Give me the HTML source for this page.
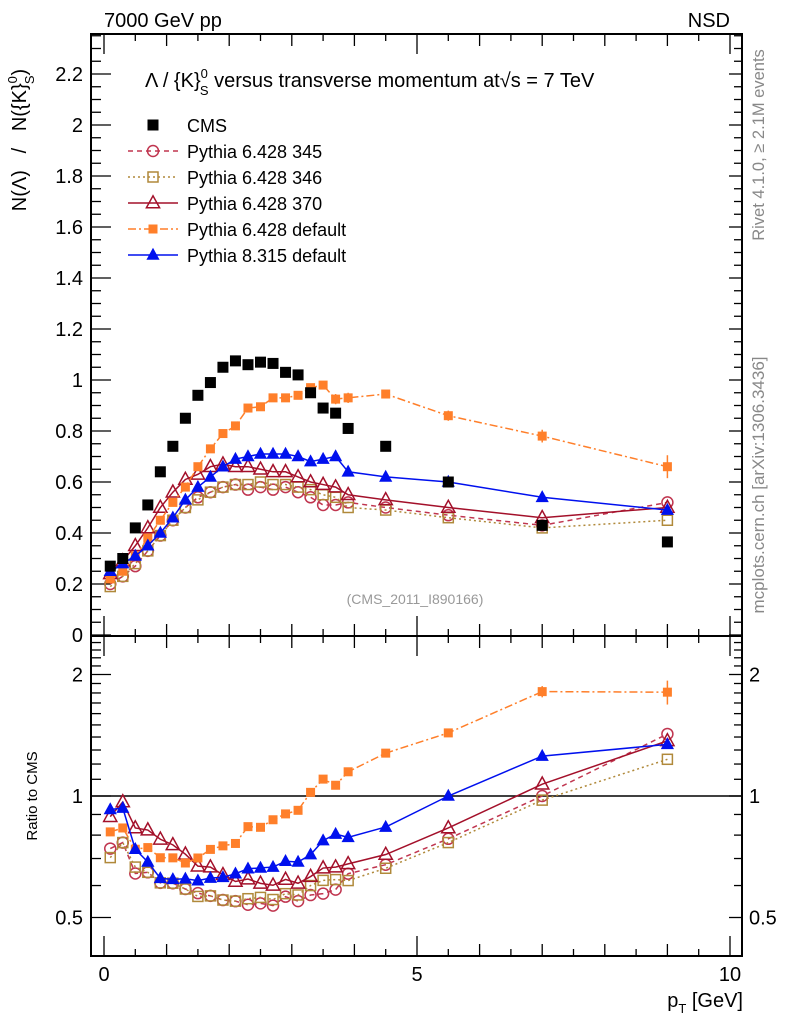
<!DOCTYPE html>
<html><head><meta charset="utf-8"><style>
html,body{margin:0;padding:0;background:#fff;}
svg{display:block;font-family:"Liberation Sans",sans-serif;}
</style></head><body>
<svg id="chart" width="786" height="1024" viewBox="0 0 786 1024" xmlns="http://www.w3.org/2000/svg">
<text x="104" y="27" font-size="20">7000 GeV pp</text>
<text x="730" y="27" font-size="20" text-anchor="end">NSD</text>
<text x="145" y="87" font-size="20">Λ / {K}<tspan font-size="13" dy="-9">0</tspan><tspan font-size="13" dx="-8" dy="17">S</tspan><tspan dy="-8"> versus transverse momentum at</tspan><tspan>√s = 7 TeV</tspan></text>
<text transform="translate(764,145) rotate(-90)" font-size="16.5" fill="#888" text-anchor="middle">Rivet 4.1.0, ≥ 2.1M events</text>
<text transform="translate(764,485) rotate(-90)" font-size="17" fill="#888" text-anchor="middle">mcplots.cern.ch [arXiv:1306.3436]</text>
<text x="415" y="604" font-size="14" fill="#999" text-anchor="middle">(CMS_2011_I890166)</text>
<text transform="translate(26,140) rotate(-90)" font-size="20" text-anchor="middle" xml:space="preserve">N(Λ)&#160;&#160;&#160;/&#160;&#160;&#160;N({K}<tspan font-size="13" dy="-9">0</tspan><tspan font-size="13" dx="-8" dy="17">S</tspan><tspan dy="-8">)</tspan></text>
<text transform="translate(37,796) rotate(-90)" font-size="15" text-anchor="middle">Ratio to CMS</text>
<text x="743" y="1007" font-size="20" text-anchor="end">p<tspan font-size="13" dy="6">T</tspan><tspan dy="-6"> [GeV]</tspan></text>
<g id="plot"></g>
</svg>
<script>
const xVals = [0.1,0.3,0.5,0.7,0.9,1.1,1.3,1.5,1.7,1.9,2.1,2.3,2.5,2.7,2.9,3.1,3.3,3.5,3.7,3.9,4.5,5.5,7.0,9.0];
const cmsVals = [0.27,0.30,0.42,0.51,0.64,0.74,0.85,0.94,0.99,1.05,1.075,1.06,1.07,1.065,1.03,1.02,0.95,0.89,0.87,0.81,0.74,0.60,0.43,0.365];
const p345Vals = [0.20,0.23,0.27,0.33,0.39,0.45,0.50,0.54,0.56,0.58,0.59,0.57,0.58,0.57,0.58,0.56,0.54,0.51,0.51,0.52,0.50,0.47,0.43,0.52];
const p346Vals = [0.19,0.23,0.28,0.33,0.39,0.45,0.50,0.53,0.56,0.58,0.59,0.59,0.60,0.59,0.59,0.58,0.57,0.55,0.54,0.50,0.49,0.46,0.42,0.45];
const p370Vals = [0.24,0.29,0.35,0.42,0.50,0.56,0.61,0.63,0.66,0.67,0.66,0.66,0.65,0.64,0.64,0.62,0.60,0.59,0.58,0.55,0.53,0.50,0.46,0.50];
const p6defVals = [0.22,0.25,0.31,0.38,0.45,0.52,0.58,0.66,0.73,0.79,0.82,0.89,0.895,0.93,0.93,0.94,0.97,0.98,0.925,0.93,0.945,0.86,0.78,0.66];
const p8defVals = [0.25,0.28,0.31,0.35,0.40,0.46,0.53,0.58,0.62,0.66,0.69,0.70,0.71,0.71,0.71,0.70,0.68,0.69,0.70,0.64,0.62,0.60,0.54,0.49];
const p6defErr = [0,0,0,0,0,0,0,0,0,0,0,0,0,0,0,0,0.01,0.015,0.02,0.02,0.015,0.02,0.025,0.045];
const yTicks = [0,0.2,0.4,0.6,0.8,1,1.2,1.4,1.6,1.8,2,2.2];
const yTickLabels = ["0","0.2","0.4","0.6","0.8","1","1.2","1.4","1.6","1.8","2","2.2"];
const rTicks = [0.5,1,2];
const rTickLabels = ["0.5","1","2"];
const xTicks = [0,5,10];
const xTickLabels = ["0","5","10"];

const NS="http://www.w3.org/2000/svg";
const L=91,R=742,T=34,MB=636,RB=956;
const X=v=>104+v*62.6;
const Y=v=>635-v*255;
const RY=v=>796-Math.log2(v)*121.5;
const g=document.getElementById('plot');
function el(tag,attrs,parent){const e=document.createElementNS(NS,tag);for(const k in attrs)e.setAttribute(k,attrs[k]);(parent||g).appendChild(e);return e;}

let f1=el('rect',{x:L,y:T,width:R-L,height:MB-T,fill:'none',stroke:'#000','stroke-width':2});


let f2=el('rect',{x:L,y:MB,width:R-L,height:RB-MB,fill:'none',stroke:'#000','stroke-width':2});



for(let v=0;v<=2.35;v+=0.05){const y=Y(v);if(y<T)break;const major=Math.abs(v/0.2-Math.round(v/0.2))<1e-6;
 el('line',{x1:L,x2:L+(major?20:10),y1:y,y2:y,stroke:'#000','stroke-width':1.3});
 el('line',{x1:R,x2:R-(major?13:8),y1:y,y2:y,stroke:'#000','stroke-width':1.3});}
yTicks.forEach((v,i)=>{const t=el('text',{x:83,y:Y(v)+7,'font-size':20,'text-anchor':'end'});t.textContent=yTickLabels[i];
 
 });
for(let v=0.4;v<=2.5;v+=0.1){const y=RY(v);if(y<MB||y>RB)continue;const major=rTicks.some(t=>Math.abs(t-v)<1e-6);
 el('line',{x1:L,x2:L+(major?20:10),y1:y,y2:y,stroke:'#000','stroke-width':1.3});
 el('line',{x1:R,x2:R-(major?13:8),y1:y,y2:y,stroke:'#000','stroke-width':1.3});}
rTicks.forEach((v,i)=>{const t=el('text',{x:83,y:RY(v)+7,'font-size':20,'text-anchor':'end'});t.textContent=rTickLabels[i];
 
 
 const t2=el('text',{x:749,y:RY(v)+7,'font-size':20});t2.textContent=rTickLabels[i];
 
 });
for(let v=0;v<=10.01;v+=0.5){const x=X(v);const major=Math.abs(v-Math.round(v))<1e-6;const big=Math.abs(v%5)<1e-6;const len=big?20:(major?12:7);
 [[T,1],[MB,-1],[MB,1],[RB,-1]].forEach(([y0,d])=>el('line',{x1:x,x2:x,y1:y0,y2:y0+d*len,stroke:'#000','stroke-width':1.3}));}
xTicks.forEach((v,i)=>{const t=el('text',{x:X(v),y:981,'font-size':20,'text-anchor':'middle'});t.textContent=xTickLabels[i];
 
 });
let u=el('line',{x1:L,x2:R,y1:RY(1),y2:RY(1),stroke:'#000','stroke-width':1.5});



function marker(parent,type,x,y,color,s){
 if(type==='sqf') return el('rect',{x:x-s,y:y-s,width:2*s,height:2*s,fill:color},parent);
 if(type==='sqo') return el('rect',{x:x-s,y:y-s,width:2*s,height:2*s,fill:'#fff','fill-opacity':0,stroke:color,'stroke-width':1.5},parent);
 if(type==='circ') return el('circle',{cx:x,cy:y,r:s,fill:'none',stroke:color,'stroke-width':1.5},parent);
 if(type==='trio') return el('polygon',{points:`${x},${y-s*1.2} ${x-s*1.1},${y+s*0.8} ${x+s*1.1},${y+s*0.8}`,fill:'none',stroke:color,'stroke-width':1.5},parent);
 if(type==='trif') return el('polygon',{points:`${x},${y-s*1.2} ${x-s*1.1},${y+s*0.8} ${x+s*1.1},${y+s*0.8}`,fill:color},parent);
}
const series=[
 {name:'pythia-6428-345',vals:p345Vals,color:'#c0354f',dash:'5,4',m:'circ',s:5.5,label:'Pythia 6.428 345'},
 {name:'pythia-6428-346',vals:p346Vals,color:'#b0893a',dash:'2,3',m:'sqo',s:5,label:'Pythia 6.428 346'},
 {name:'pythia-6428-370',vals:p370Vals,color:'#a3102a',dash:'',m:'trio',s:6,label:'Pythia 6.428 370'},
 {name:'pythia-6428-default',vals:p6defVals,color:'#ff7f2a',dash:'8,3,2,3',m:'sqf',s:4.5,label:'Pythia 6.428 default',err:p6defErr},
 {name:'pythia-8315-default',vals:p8defVals,color:'#0010ee',dash:'',m:'trif',s:6,label:'Pythia 8.315 default'}
];
series.forEach(sr=>{
 const gm=el('g',{});
 
 
 const gr=el('g',{});
 
 
 const pts=xVals.map((x,i)=>[X(x),Y(sr.vals[i])]);
 const rpts=xVals.map((x,i)=>[X(x),RY(sr.vals[i]/cmsVals[i])]);
 const a={fill:'none',stroke:sr.color,'stroke-width':1.5};if(sr.dash)a['stroke-dasharray']=sr.dash;
 el('polyline',Object.assign({points:pts.map(p=>p.join(',')).join(' ')},a),gm);
 el('polyline',Object.assign({points:rpts.map(p=>p.join(',')).join(' ')},a),gr);
 xVals.forEach((x,i)=>{
  const e=sr.err?sr.err[i]:0;
  if(e>0){el('line',{x1:X(x),x2:X(x),y1:Y(sr.vals[i]-e),y2:Y(sr.vals[i]+e),stroke:sr.color,'stroke-width':1.5},gm);
   const r=sr.vals[i]/cmsVals[i],re=e/cmsVals[i];
   el('line',{x1:X(x),x2:X(x),y1:RY(r-re),y2:RY(r+re),stroke:sr.color,'stroke-width':1.5},gr);}
  const m=marker(gm,sr.m,X(x),Y(sr.vals[i]),sr.color,sr.s);
  
  
  const m2=marker(gr,sr.m,X(x),RY(sr.vals[i]/cmsVals[i]),sr.color,sr.s);
  
  
 });
});
const gc=el('g',{});


xVals.forEach((x,i)=>{const m=marker(gc,'sqf',X(x),Y(cmsVals[i]),'#000',5.5);
 
 });

const lg=el('g',{});


const le=[{label:'CMS',m:'sqf',color:'#000',s:5.5,line:false,name:'cms'}].concat(series.map(s=>Object.assign({line:true},s)));
le.forEach((s,i)=>{const y=125+i*26;
 const row=el('g',{},lg);
 
 
 if(s.line){const a={x1:128,x2:178,y1:y,y2:y,stroke:s.color,'stroke-width':1.5};if(s.dash)a['stroke-dasharray']=s.dash;el('line',a,row);}
 marker(row,s.m,153,y,s.color,s.s);
 const t=el('text',{x:187,y:y+7,'font-size':18},row);t.textContent=s.label;});
</script>
</body></html>
